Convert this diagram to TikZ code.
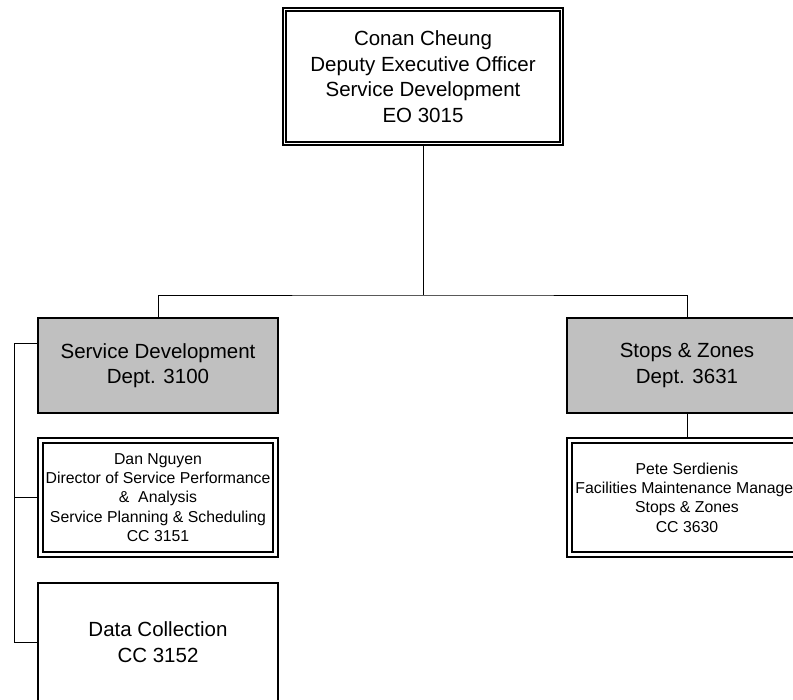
\documentclass[tikz,border=0pt]{standalone}
\usepackage{fontspec}
\setmainfont{Liberation Sans}
\usetikzlibrary{backgrounds}
\definecolor{deptgray}{HTML}{C0C0C0}

\begin{document}
\begin{tikzpicture}[x=1pt,y=-1pt,line width=1.3pt,
  unit/.style={draw,fill=white,align=center,inner sep=0pt,font=\fontsize{20.5}{25.5}\selectfont},
  dept/.style={unit,fill=deptgray,minimum width=240pt,minimum height=95pt},
  office/.style={unit,double,double distance=3.7pt,minimum width=235pt,minimum height=114pt,font=\fontsize{15.8}{19.4}\selectfont}]
\useasboundingbox (0,0) rectangle (793,700);
\node[unit,double,double distance=1.9pt,minimum width=277pt,minimum height=134pt] (top) at (423,76.5) {Conan Cheung\\Deputy Executive Officer\\Service Development\\EO 3015};
\node[dept] (sd) at (158,365.5) {Service Development\\Dept. 3100};
\node[dept] (sz) at (687,365.5) {Stops \& Zones\\Dept. 3631};
\node[office] (dan) at (158,497.5) {Dan Nguyen\\Director of Service Performance\\\&\ \ Analysis\\Service Planning \& Scheduling\\CC 3151};
\node[unit,minimum width=240pt,minimum height=118pt] (dc) at (158,642) {Data Collection\\CC 3152};
\node[office] (pete) at (687,497.5) {Pete Serdienis\\Facilities Maintenance Manager\\Stops \& Zones\\CC 3630};
\coordinate (bar) at (423,295);
\coordinate (spine) at (14,343);
\begin{scope}[on background layer]
\draw (top) -- (bar);
\draw (sd) |- (bar) -| (sz);
\draw (sd.west |- spine) -- (spine) |- (dc.west);
\draw (dan.west) -- (dan.west -| spine);
\draw (sz) -- (pete);
\end{scope}
\end{tikzpicture}
\end{document}
